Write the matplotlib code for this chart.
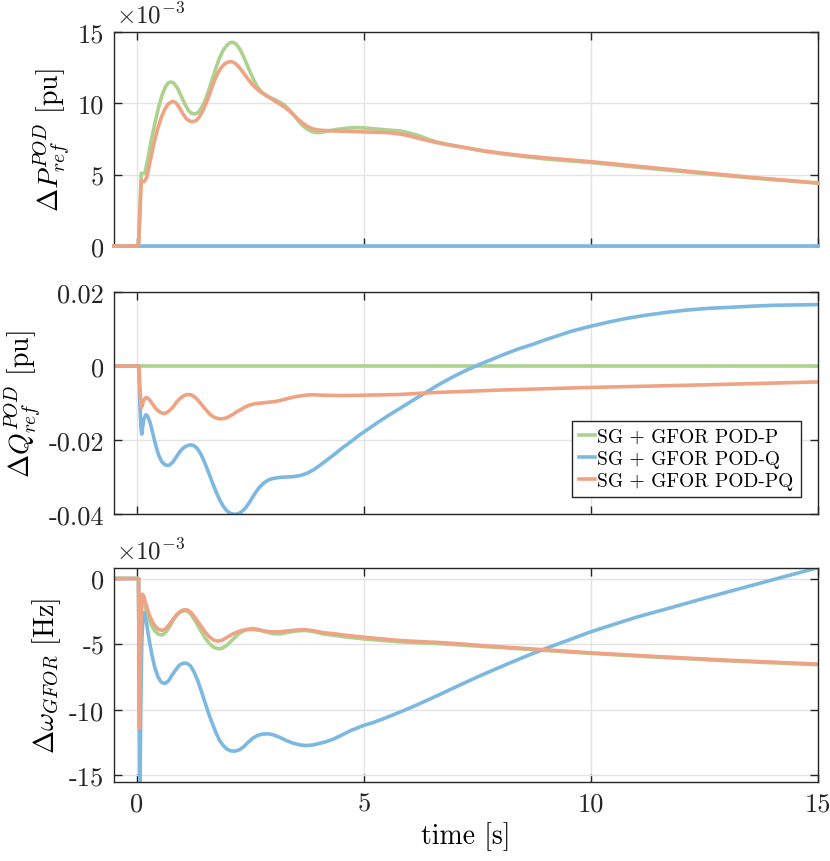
import numpy as np
import matplotlib
matplotlib.use('Agg')
import matplotlib.pyplot as plt

plt.rcParams['font.family'] = 'serif'
plt.rcParams['font.serif'] = ['cmr10']
plt.rcParams['mathtext.fontset'] = 'cm'
plt.rcParams['axes.unicode_minus'] = False
plt.rcParams['axes.formatter.use_mathtext'] = False

labels = ['SG + GFOR POD-P', 'SG + GFOR POD-Q', 'SG + GFOR POD-PQ']
colors = ['#ADD28F', '#7DB8E0', '#EFA385']

# --- top panel: dP_ref^POD, in units of 1e-3 pu ---
tP_green = [-0.5, 0.04, 0.1, 0.18, 0.25, 0.32, 0.4, 0.48, 0.56, 0.64, 0.7, 0.76, 0.82, 0.9, 0.98,
            1.06, 1.14, 1.21, 1.28, 1.35, 1.42, 1.5, 1.58, 1.66, 1.74, 1.82, 1.9, 1.98, 2.05,
            2.12, 2.19, 2.27, 2.35, 2.43, 2.51, 2.59, 2.67, 2.75, 2.85, 2.95, 3.05, 3.15, 3.25,
            3.35, 3.45, 3.55, 3.65, 3.75, 3.85, 3.95, 4.05, 4.2, 4.4, 4.6, 4.8, 5.0, 5.2, 5.5,
            5.8, 6.0, 6.2, 6.4, 6.6, 6.8, 7.0, 7.3, 7.63, 8.0, 8.5, 9.0, 10.0, 11.0, 12.4, 13.5, 15.0]
P_green = [0, 0, 5.1, 5.1, 6.2, 7.4, 8.6, 9.7, 10.6, 11.2, 11.45, 11.5, 11.4, 11.05, 10.5,
           9.95, 9.5, 9.3, 9.25, 9.35, 9.65, 10.15, 10.85, 11.65, 12.45, 13.15, 13.7, 14.05, 14.25,
           14.28, 14.15, 13.8, 13.3, 12.7, 12.1, 11.55, 11.1, 10.8, 10.55, 10.38, 10.25, 10.08, 9.88,
           9.58, 9.22, 8.82, 8.45, 8.2, 8.02, 7.95, 7.96, 8.05, 8.17, 8.25, 8.3, 8.28, 8.22, 8.14,
           8.06, 7.93, 7.75, 7.5, 7.3, 7.15, 7.03, 6.85, 6.65, 6.48, 6.28, 6.1, 5.85, 5.53, 5.1, 4.78, 4.4]
tP_blue = [-0.5, 15.0]
P_blue = [0, 0]
tP_orange = [-0.5, 0.04, 0.1, 0.16, 0.22, 0.3, 0.38, 0.46, 0.54, 0.62, 0.7, 0.79, 0.86, 0.94,
             1.02, 1.1, 1.17, 1.24, 1.31, 1.38, 1.46, 1.54, 1.62, 1.7, 1.78, 1.86, 1.94, 2.02,
             2.09, 2.17, 2.25, 2.35, 2.45, 2.55, 2.65, 2.75, 2.85, 2.95, 3.05, 3.15, 3.25, 3.35,
             3.45, 3.55, 3.65, 3.75, 3.85, 3.95, 4.1, 4.5, 5.0, 5.5, 5.8, 6.0, 6.2, 6.4, 6.6, 6.8,
             7.0, 7.3, 7.63, 8.0, 8.5, 9.0, 10.0, 11.0, 12.4, 13.5, 15.0]
P_orange = [0, 0, 4.55, 4.5, 4.8, 6.0, 7.2, 8.2, 9.0, 9.6, 9.98, 10.14, 10.05, 9.7,
            9.25, 8.9, 8.75, 8.72, 8.8, 9.05, 9.5, 10.1, 10.8, 11.5, 12.1, 12.5, 12.78, 12.9,
            12.92, 12.8, 12.55, 12.15, 11.7, 11.3, 11.0, 10.75, 10.55, 10.35, 10.15, 9.95, 9.75, 9.5,
            9.2, 8.9, 8.62, 8.4, 8.25, 8.15, 8.1, 8.05, 8.0, 7.95, 7.85, 7.72, 7.55, 7.4, 7.25, 7.12,
            7.02, 6.86, 6.68, 6.52, 6.33, 6.18, 5.91, 5.6, 5.16, 4.82, 4.42]

# --- middle panel: dQ_ref^POD [pu] ---
tQ_green = [-0.5, 15.0]
Q_green = [0, 0]
tQ_blue = [-0.5, 0.05, 0.07, 0.09, 0.11, 0.13, 0.16, 0.2, 0.24, 0.3, 0.36, 0.42, 0.48, 0.55, 0.62,
           0.7, 0.78, 0.86, 0.94, 1.02, 1.1, 1.18, 1.26, 1.34, 1.42, 1.5, 1.58, 1.66, 1.74, 1.82,
           1.9, 1.98, 2.06, 2.14, 2.22, 2.3, 2.4, 2.5, 2.6, 2.7, 2.8, 2.9, 3.0, 3.15, 3.3, 3.45,
           3.6, 3.75, 3.9, 4.05, 4.2, 4.35, 4.5, 4.7, 4.91, 5.1, 5.3, 5.55, 5.79, 6.0, 6.2, 6.4,
           6.6, 6.8, 7.0, 7.25, 7.5, 7.8, 8.1, 8.4, 8.73, 9.0, 9.3, 9.6, 9.98, 10.4, 10.8, 11.2,
           11.67, 12.1, 12.6, 13.13, 13.6, 14.0, 14.5, 15.0]
Q_blue = [0, 0, -0.010, -0.016, -0.0184, -0.0165, -0.0142, -0.0132, -0.0135, -0.0155, -0.0185,
          -0.0215, -0.024, -0.0258, -0.0267, -0.0269, -0.0262, -0.0248, -0.0233, -0.0222, -0.0216,
          -0.0213, -0.0215, -0.0224, -0.0240, -0.0262, -0.0287, -0.0313, -0.0338, -0.0360,
          -0.0378, -0.0391, -0.0398, -0.0401, -0.0400, -0.0395, -0.0383, -0.0365, -0.0345,
          -0.0328, -0.0316, -0.0308, -0.0304, -0.0301, -0.0300, -0.0299, -0.0296, -0.0290,
          -0.0280, -0.0267, -0.0253, -0.0239, -0.0224, -0.0206, -0.0186, -0.0170, -0.0153,
          -0.0133, -0.0115, -0.0099, -0.0084, -0.0069, -0.0054, -0.0040, -0.0027, -0.0012,
          0.0002, 0.0017, 0.0032, 0.0046, 0.0059, 0.0071, 0.0083, 0.0095, 0.0107, 0.0119,
          0.0129, 0.0137, 0.0145, 0.0151, 0.0156, 0.0159, 0.0162, 0.0164, 0.0165, 0.0166]
tQ_orange = [-0.5, 0.05, 0.07, 0.09, 0.11, 0.14, 0.18, 0.22, 0.28, 0.35, 0.42, 0.5, 0.58, 0.65,
             0.72, 0.8, 0.88, 0.96, 1.04, 1.12, 1.2, 1.28, 1.36, 1.44, 1.52, 1.6, 1.68, 1.76,
             1.84, 1.92, 2.0, 2.1, 2.2, 2.3, 2.4, 2.5, 2.6, 2.75, 2.9, 3.05, 3.2, 3.35, 3.5, 3.65,
             3.8, 3.95, 4.1, 4.5, 5.0, 5.79, 6.5, 8.0, 9.98, 12.5, 15.0]
Q_orange = [0, 0, -0.006, -0.0100, -0.0112, -0.0098, -0.0087, -0.0085, -0.0091, -0.0103,
            -0.0115, -0.0124, -0.0128, -0.0127, -0.0121, -0.0111, -0.0097, -0.0087, -0.0080,
            -0.0077, -0.0078, -0.0084, -0.0094, -0.0106, -0.0118, -0.0129, -0.0137, -0.0141,
            -0.0143, -0.0142, -0.0139, -0.0132, -0.0124, -0.0117, -0.0110, -0.0105, -0.0102,
            -0.0100, -0.0098, -0.0096, -0.0092, -0.0087, -0.0083, -0.0080, -0.0078, -0.0078,
            -0.0079, -0.0080, -0.0079, -0.0077, -0.0072, -0.0065, -0.0058, -0.0051, -0.0043]

# --- bottom panel: d omega_GFOR, in units of 1e-3 Hz ---
tW_green = [-0.5, 0.04, 0.06, 0.08, 0.1, 0.12, 0.15, 0.2, 0.26, 0.33, 0.4, 0.48, 0.56, 0.64, 0.72,
            0.8, 0.88, 0.96, 1.04, 1.12, 1.2, 1.3, 1.4, 1.5, 1.6, 1.7, 1.8, 1.88, 1.98, 2.1, 2.25,
            2.4, 2.56, 2.7, 2.85, 3.0, 3.15, 3.3, 3.5, 3.7, 3.9, 4.1, 4.32, 4.6, 5.0, 5.4, 5.79,
            6.2, 6.6, 7.0, 7.5, 8.2, 8.95, 9.98, 11.5, 13.0, 15.0]
W_green = [0, 0, -10.0, -5.5, -2.5, -1.5, -1.7, -2.3, -3.0, -3.6, -4.0, -4.25, -4.3, -4.1, -3.7,
           -3.2, -2.8, -2.55, -2.45, -2.5, -2.75, -3.3, -3.9, -4.5, -4.95, -5.25, -5.35, -5.32,
           -5.1, -4.7, -4.2, -3.9, -3.8, -3.9, -4.08, -4.2, -4.22, -4.12, -4.0, -3.95, -4.05,
           -4.22, -4.32, -4.45, -4.6, -4.72, -4.82, -4.9, -4.95, -5.03, -5.15, -5.3, -5.47, -5.7,
           -6.0, -6.27, -6.57]
tW_blue = [-0.5, 0.04, 0.07, 0.09, 0.11, 0.14, 0.17, 0.22, 0.28, 0.34, 0.4, 0.47, 0.54, 0.62, 0.7,
           0.78, 0.86, 0.94, 1.02, 1.1, 1.18, 1.26, 1.34, 1.42, 1.5, 1.58, 1.66, 1.74, 1.82, 1.9,
           1.98, 2.06, 2.16, 2.26, 2.36, 2.46, 2.56, 2.66, 2.77, 2.89, 3.0, 3.15, 3.3, 3.45, 3.6,
           3.74, 3.88, 4.0, 4.15, 4.32, 4.5, 4.7, 4.99, 5.2, 5.4, 5.6, 5.79, 6.0, 6.2, 6.6, 7.0,
           7.5, 8.0, 8.5, 8.95, 9.5, 9.98, 10.5, 11.0, 11.67, 12.4, 13.13, 14.0, 14.97]
W_blue = [0, 0, -16.5, -10.0, -5.0, -2.6, -2.6, -3.5, -4.8, -5.9, -6.8, -7.5, -7.9, -8.0, -7.8,
          -7.35, -6.95, -6.6, -6.45, -6.45, -6.65, -7.1, -7.75, -8.55, -9.4, -10.25, -11.0, -11.7,
          -12.3, -12.7, -12.98, -13.12, -13.15, -13.05, -12.8, -12.45, -12.15, -11.95, -11.85,
          -11.83, -11.9, -12.1, -12.35, -12.55, -12.68, -12.72, -12.68, -12.58, -12.45, -12.25,
          -11.95, -11.6, -11.2, -10.98, -10.72, -10.45, -10.18, -9.88, -9.58, -8.95, -8.3, -7.5,
          -6.75, -6.02, -5.4, -4.7, -4.08, -3.5, -2.95, -2.31, -1.6, -0.91, -0.1, 0.8]
tW_orange = [-0.5, 0.04, 0.06, 0.08, 0.1, 0.12, 0.15, 0.2, 0.26, 0.33, 0.4, 0.48, 0.56, 0.64, 0.72,
             0.8, 0.88, 0.96, 1.04, 1.12, 1.2, 1.3, 1.4, 1.5, 1.6, 1.7, 1.79, 1.88, 1.98, 2.1,
             2.25, 2.4, 2.56, 2.7, 2.85, 3.0, 3.15, 3.3, 3.5, 3.7, 3.9, 4.1, 4.32, 4.6, 5.0, 5.4,
             5.79, 6.2, 6.6, 7.0, 7.5, 8.2, 8.95, 9.98, 11.5, 13.0, 15.0]
W_orange = [0, 0, -11.4, -6.0, -2.5, -1.2, -1.3, -1.9, -2.6, -3.2, -3.6, -3.88, -3.95, -3.82,
            -3.5, -3.1, -2.75, -2.5, -2.38, -2.4, -2.6, -3.05, -3.55, -4.05, -4.45, -4.7, -4.77,
            -4.7, -4.5, -4.25, -4.02, -3.9, -3.88, -3.93, -4.02, -4.07, -4.06, -4.0, -3.93, -3.9,
            -3.98, -4.12, -4.2, -4.32, -4.47, -4.6, -4.72, -4.8, -4.86, -4.95, -5.08, -5.25,
            -5.42, -5.66, -5.95, -6.22, -6.52]

xticks = [0, 5, 10, 15]

fig = plt.figure(figsize=(8.3, 8.62), dpi=100)
W, H = 830.0, 862.0
ax1 = fig.add_axes([114 / W, 1 - 247 / H, 704 / W, 214 / H])
ax2 = fig.add_axes([114 / W, 1 - 515 / H, 704 / W, 222 / H])
ax3 = fig.add_axes([114 / W, 1 - 783 / H, 704 / W, 214 / H])

panels = [
    (ax1, [(tP_green, P_green), (tP_blue, P_blue), (tP_orange, P_orange)]),
    (ax2, [(tQ_green, Q_green), (tQ_blue, Q_blue), (tQ_orange, Q_orange)]),
    (ax3, [(tW_green, W_green), (tW_blue, W_blue), (tW_orange, W_orange)]),
]

for ax, series in panels:
    top = ax is ax1
    for (t, v), c, lab in zip(series, colors, labels):
        ax.plot(t, v, color=c, lw=2.6, label=lab, solid_joinstyle='round',
                clip_on=not top, zorder=3 if top else 2)
    ax.set_xlim(-0.5, 15)
    ax.set_xticks(xticks)
    ax.grid(True, color='#e3e3e3', lw=1)
    ax.set_axisbelow(True)
    ax.tick_params(direction='in', length=6, width=1, top=True, right=True,
                   labelsize=19, colors='#262626', pad=7)
    for s in ax.spines.values():
        s.set_color('#262626')
        s.set_linewidth(1)

ax1.tick_params(labelbottom=False)
ax2.tick_params(labelbottom=False)

ax1.set_ylim(0, 15)
ax1.set_yticks([0, 5, 10, 15])
ax1.set_ylabel(r'$\Delta P^{POD}_{ref}$ [pu]', fontsize=20)
ax1.text(0.003, 1.02, r'$\times10^{-3}$', transform=ax1.transAxes, fontsize=18,
         ha='left', va='bottom', color='#262626')

ax2.set_ylim(-0.04, 0.02)
ax2.set_yticks([-0.04, -0.02, 0, 0.02])
ax2.set_yticklabels(['-0.04', '-0.02', '0', '0.02'])
ax2.set_ylabel(r'$\Delta Q^{POD}_{ref}$ [pu]', fontsize=20)
leg = ax2.legend(loc='lower right', fontsize=14, handlelength=0.8, handletextpad=0.15,
                 borderaxespad=0.9, borderpad=0.35, labelspacing=0.2, fancybox=False,
                 framealpha=1)
leg.get_frame().set_edgecolor('#262626')
leg.get_frame().set_linewidth(1)

ax3.set_ylim(-15.5, 0.8)
ax3.set_yticks([-15, -10, -5, 0])
ax3.set_ylabel(r'$\Delta\omega_{GFOR}$ [Hz]', fontsize=20)
ax3.text(0.003, 1.02, r'$\times10^{-3}$', transform=ax3.transAxes, fontsize=18,
         ha='left', va='bottom', color='#262626')
ax3.set_xlabel('time [s]', fontsize=20)

fig.savefig('out.png', dpi=100)
